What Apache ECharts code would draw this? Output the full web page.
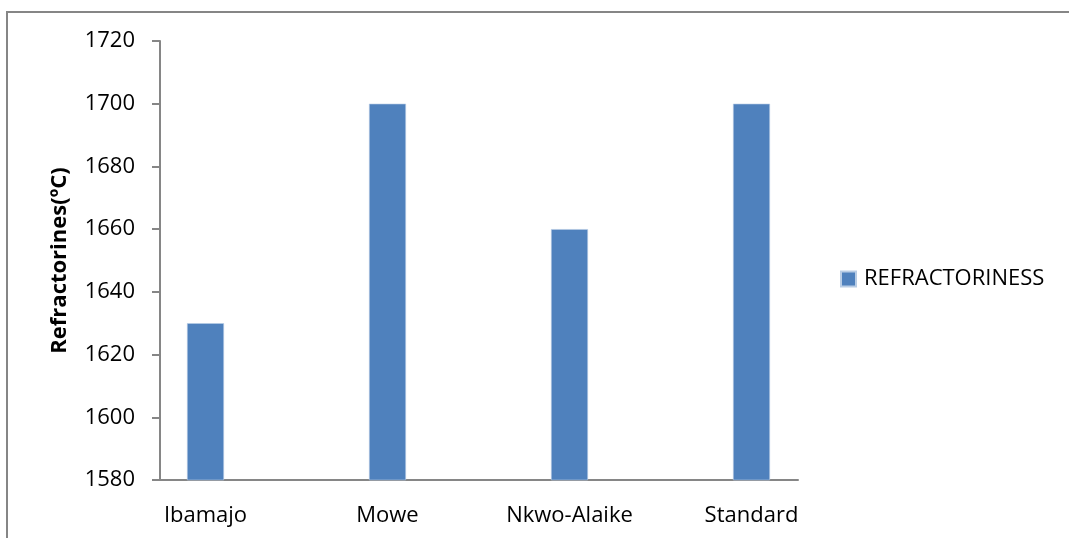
<!DOCTYPE html>
<html>
<head>
<meta charset="utf-8">
<style>
  html, body { margin: 0; padding: 0; background: #ffffff; }
  #chart { width: 1069px; height: 538px; }
</style>
<script src="https://cdn.jsdelivr.net/npm/echarts@6/dist/echarts.min.js"></script>
</head>
<body>
<div id="chart"></div>
<script>
// Refractoriness of clay samples (°C)
const categories = ['Ibamajo', 'Mowe', 'Nkwo-Alaike', 'Standard'];
const refractoriness = [1630, 1700, 1660, 1700];
const seriesName = 'REFRACTORINESS';
const yMin = 1580;
const yMax = 1720;
const yStep = 20;

const FONT = '"Open Sans", "Noto Sans", sans-serif';
const FONT_SIZE = 22;
const AXIS_GREY = '#868686';
const BAR_BLUE = '#4F81BD';

const chart = echarts.init(document.getElementById('chart'), null, { renderer: 'canvas' });

chart.setOption({
  backgroundColor: '#ffffff',
  animation: false,
  textStyle: { fontFamily: FONT },
  graphic: [{
    type: 'rect',
    shape: { x: 7, y: 12, width: 1100, height: 600 },
    style: { fill: 'none', stroke: AXIS_GREY, lineWidth: 2 },
    silent: true,
    z: -10
  }],
  legend: {
    data: [seriesName],
    left: 835,
    top: 263,
    icon: 'rect',
    itemWidth: 15,
    itemHeight: 15,
    itemGap: 8,
    textStyle: { fontFamily: FONT, fontSize: FONT_SIZE, color: '#000000', padding: [0, 0, 0, 3] }
  },
  grid: [
    // axis frame
    { left: 160, width: 638, top: 41, bottom: 58, containLabel: false },
    // bar area
    { left: 114.5, width: 728, top: 41, bottom: 58, containLabel: false }
  ],
  xAxis: [
    {
      gridIndex: 0,
      type: 'category',
      data: categories,
      axisLine: { show: true, lineStyle: { color: AXIS_GREY, width: 2 } },
      axisTick: { show: false },
      axisLabel: { show: false },
      splitLine: { show: false }
    },
    {
      gridIndex: 1,
      type: 'category',
      data: categories,
      axisLine: { show: false },
      axisTick: { show: false },
      axisLabel: { show: true, margin: 25, fontFamily: FONT, fontSize: FONT_SIZE, color: '#000000' },
      splitLine: { show: false }
    }
  ],
  yAxis: [
    {
      gridIndex: 0,
      type: 'value',
      min: yMin,
      max: yMax,
      interval: yStep,
      name: 'Refractorines(ºC)',
      nameLocation: 'middle',
      nameGap: 89,
      nameTextStyle: { fontFamily: FONT, fontSize: FONT_SIZE, fontWeight: 'bold', color: '#000000' },
      axisLine: { show: true, lineStyle: { color: AXIS_GREY, width: 2 } },
      axisTick: { show: true, inside: false, length: 8, lineStyle: { color: AXIS_GREY, width: 2 } },
      axisLabel: {
        show: true, margin: 25, fontFamily: FONT, fontSize: FONT_SIZE, color: '#000000',
        formatter: (v) => String(v)
      },
      splitLine: { show: false }
    },
    {
      gridIndex: 1,
      type: 'value',
      min: yMin,
      max: yMax,
      interval: yStep,
      show: false
    }
  ],
  series: [{
    name: seriesName,
    type: 'bar',
    xAxisIndex: 1,
    yAxisIndex: 1,
    data: refractoriness,
    barWidth: 37,
    itemStyle: { color: BAR_BLUE, borderColor: '#b9cde5', borderWidth: 0.6 }
  }]
});
</script>
</body>
</html>
